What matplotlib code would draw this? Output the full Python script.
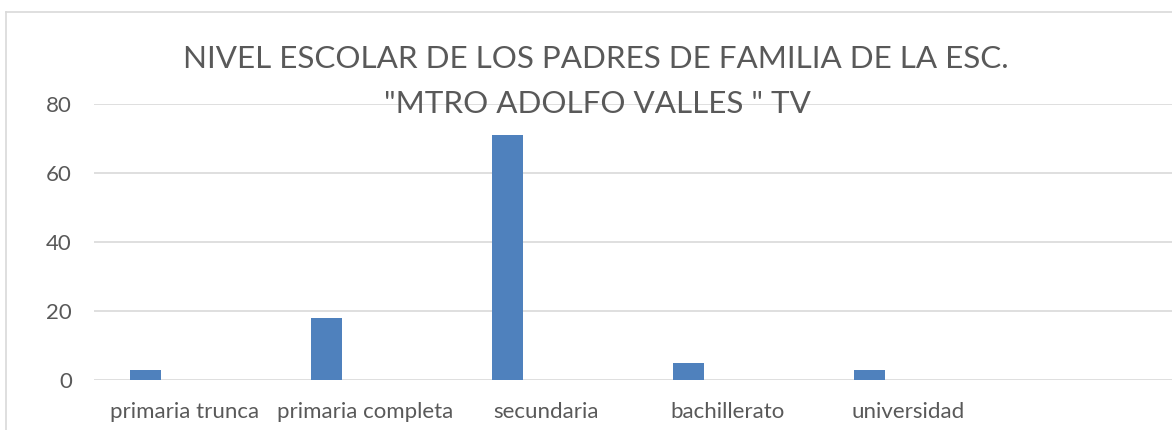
import matplotlib
matplotlib.use('Agg')
import matplotlib.pyplot as plt
from matplotlib.lines import Line2D

# data
categories = ['primaria trunca', 'primaria completa', 'secundaria',
              'bachillerato', 'universidad', '']
values = [3, 18, 71, 5, 3, 0]
yticks = [0, 20, 40, 60, 80]
title1 = 'NIVEL ESCOLAR DE LOS PADRES DE FAMILIA DE LA ESC.'
title2 = '"MTRO ADOLFO VALLES " TV'

plt.rcParams['font.family'] = ['Lato', 'DejaVu Sans']
gray_txt = '#595959'
grid_col = '#d9d9d9'
bar_col = '#4f81bd'

W, H = 1172, 430
fig = plt.figure(figsize=(W / 100, H / 100), dpi=100)

# chart area border (cropped on the right and bottom)
fig.add_artist(Line2D([6 / W, 6 / W], [0, 1 - 12 / H], color=grid_col, lw=1.2))
fig.add_artist(Line2D([6 / W, 1], [1 - 12 / H, 1 - 12 / H], color=grid_col, lw=1.2))

ax = fig.add_axes([94 / W, 1 - 380 / H, (W - 94) / W, (380 - 104) / H])
x = list(range(len(categories)))
ax.bar([i - 0.215 for i in x], values, width=0.172, color=bar_col, zorder=3)

ax.set_ylim(0, 80)
ax.set_xlim(-0.5, -0.5 + (W - 94) / 181.0)
ax.set_yticks(yticks)
ax.set_xticks(x)
ax.set_xticklabels(categories)
ax.yaxis.grid(True, color=grid_col, lw=1.2, zorder=0)
for s in ax.spines.values():
    s.set_visible(False)
ax.tick_params(axis='both', length=0, colors=gray_txt, labelsize=16)
ax.tick_params(axis='y', pad=16)
ax.tick_params(axis='x', pad=16)

fig.text(596 / W, 1 - 68 / H, title1, ha='center', va='baseline',
         fontsize=22.6, color=gray_txt)
fig.text(597 / W, 1 - 113 / H, title2, ha='center', va='baseline',
         fontsize=22.6, color=gray_txt)

fig.savefig('out.png', dpi=100)
